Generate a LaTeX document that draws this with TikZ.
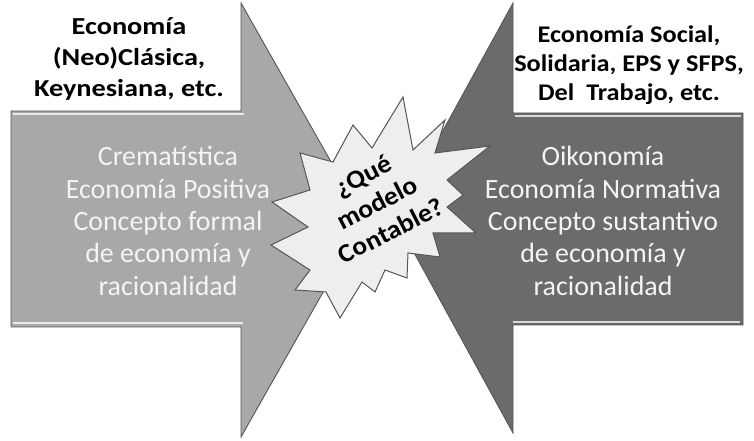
\documentclass[tikz,border=0pt]{standalone}
\usepackage{fontspec}
\setmainfont{Carlito}
\newfontfamily\headleftfont[FakeStretch=1.16]{Carlito}
\newfontfamily\headrightfont[FakeStretch=1.1]{Carlito}
\newfontfamily\starfont[FakeStretch=1.06]{Carlito}
\definecolor{lgray}{HTML}{A8A8A8}
\definecolor{dgray}{HTML}{6B6B6B}
\definecolor{edgec}{HTML}{555555}
\definecolor{starfill}{HTML}{EEEEEE}
\definecolor{txtw}{HTML}{F4F4F4}
\tikzset{
  arrowshape/.style={draw=edgec, line width=0.9bp, line join=miter},
  bevel/.style={draw=white, opacity=0.75, line width=2bp},
  bodytxt/.style={text=txtw, align=center, font=\fontsize{28}{32.5}\selectfont, inner sep=0pt},
  headleft/.style={text=black, align=center, font=\headleftfont\fontsize{24.5}{31.5}\selectfont\bfseries, inner sep=0pt},
  headright/.style={text=black, align=center, font=\headrightfont\fontsize{24}{29}\selectfont\bfseries, inner sep=0pt},
  startxt/.style={text=black, align=center, font=\starfont\fontsize{26}{31}\selectfont\bfseries, inner sep=0pt, rotate=27},
  starshape/.style={draw=edgec, fill=starfill, line width=1bp, line join=miter}
}
\begin{document}
\begin{tikzpicture}[x=1bp, y=-1bp]
\useasboundingbox (0,0) rectangle (754,441);
% left arrow
\fill[lgray] (11,111) -- (241,111) -- (241,3) -- (364,220) -- (241,437) -- (241,327) -- (11,327) -- cycle;
\draw[arrowshape] (11,111) -- (241,111) -- (241,3) -- (364,220) -- (241,437) -- (241,327) -- (11,327) -- cycle;
\draw[bevel] (13,114.5) -- (244,114.5);
\draw[bevel] (13,323.5) -- (243,323.5);
% right arrow
\fill[dgray] (743,113) -- (513,113) -- (513,3) -- (395,218) -- (513,433) -- (513,325) -- (743,325) -- cycle;
\draw[arrowshape] (743,113) -- (513,113) -- (513,3) -- (395,218) -- (513,433) -- (513,325) -- (743,325) -- cycle;
\draw[bevel] (515,116) -- (741,116);
\draw[bevel] (513,322) -- (740,322);
% star
\draw[starshape] (403,97) -- (413,150) -- (445,120) -- (435,153) -- (490,146) -- (447,180)
  -- (463,195) -- (447,207) -- (476,233) -- (433,233) -- (440,257) -- (408,253)
  -- (407,278) -- (385,270) -- (375,292) -- (362,282) -- (340,318) -- (326,292)
  -- (295,290) -- (310,270) -- (271,245) -- (308,227) -- (272,202) -- (310,190)
  -- (300,153) -- (333,162) -- (353,125) -- (372,148) -- cycle;
% texts
\node[headleft] (tl) at (129,59) {Economía\\(Neo)Clásica,\\Keynesiana, etc.};
\node[headright] (tr) at (629,65) {Economía Social,\\Solidaria, EPS y SFPS,\\Del~ Trabajo, etc.};
\node[bodytxt] (lb) at (168,221) {Crematística\\Economía Positiva\\Concepto formal\\de economía y\\racionalidad};
\node[bodytxt] (rb) at (603,221) {Oikonomía\\Economía Normativa\\Concepto sustantivo\\de economía y\\racionalidad};
\node[startxt] (st) at (377,203) {¿Qué\\modelo\\Contable?};
\end{tikzpicture}
\end{document}
